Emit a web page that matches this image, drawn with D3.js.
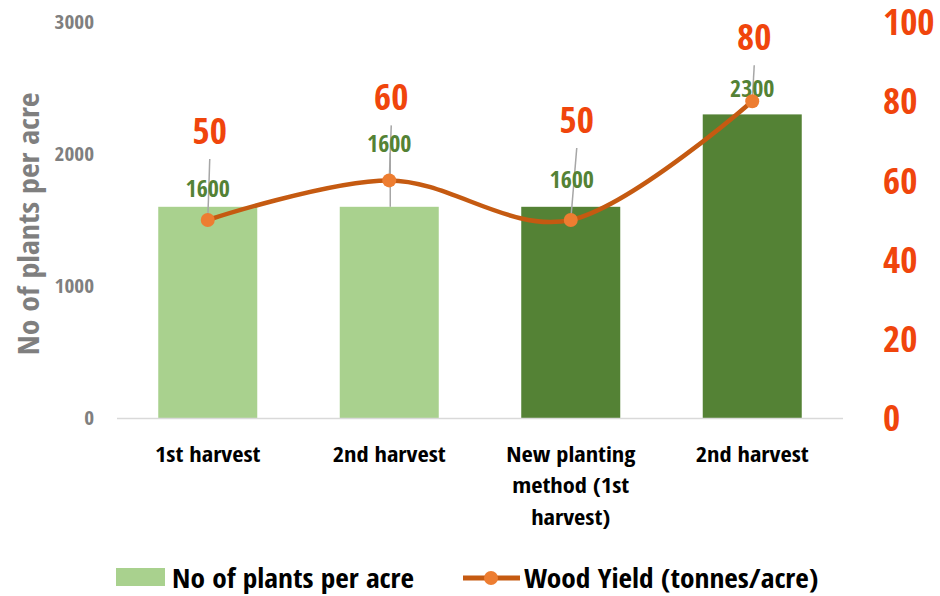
<!DOCTYPE html>
<html><head><meta charset="utf-8">
<script src="https://cdn.jsdelivr.net/npm/d3@7"></script>
<style>
html,body{margin:0;padding:0;background:#fff;}
svg text{font-family:"Open Sans Condensed","Liberation Sans Narrow","DejaVu Sans Condensed","Open Sans",sans-serif;font-weight:700;font-stretch:75%;}
</style>
</head><body>
<svg id="chart" width="940" height="596"></svg>
<script>
// ---- data ----
const categories = ["1st harvest", "2nd harvest", "New planting method (1st harvest)", "2nd harvest"];
const categoryLines = [["1st harvest"], ["2nd harvest"], ["New planting", "method (1st", "harvest)"], ["2nd harvest"]];
const plantsPerAcre = [1600, 1600, 1600, 2300];
const woodYield = [50, 60, 50, 80];
const barIsNewMethod = [false, false, true, true];
const leftTicks = [0, 1000, 2000, 3000];
const rightTicks = [0, 20, 40, 60, 80, 100];
const seriesNames = ["No of plants per acre", "Wood Yield (tonnes/acre)"];

// label placement (manually dragged labels in the original)
const yieldLabelOffset = [[2, -90], [2, -84], [6, -101], [2, -65]];
const barLabelOffset = [[0, -19], [0, -64], [1, -28], [0, -27]];

(function () {
const svg = d3.select("#chart");
const pL = 117, pR = 843, pT = 22, pB = 418;

const x = d3.scaleBand().domain(d3.range(categories.length)).range([pL, pR])
  .paddingInner(0.4545).paddingOuter(0.2273);
const yL = d3.scaleLinear().domain([0, 3000]).range([pB, pT]);
const yR = d3.scaleLinear().domain([0, 100]).range([pB, pT]);

const cLight = "#A9D18E", cDark = "#548235", cLine = "#C55A11", cMark = "#ED7D31";
const cRed = "#F0450C", cGray = "#7F7F7F", cLeader = "#A6A6A6";

// text placed at (tx,ty) and widened horizontally by sx
function wtext(parent, tx, ty, sx, rot) {
  return parent.append("text")
    .attr("transform", `translate(${tx},${ty})${rot ? ` rotate(${rot})` : ""} scale(${sx},1)`);
}

// bars
svg.append("g").selectAll("rect").data(plantsPerAcre).join("rect")
  .attr("x", (d, i) => x(i)).attr("width", x.bandwidth())
  .attr("y", d => yL(d)).attr("height", d => yL(0) - yL(d))
  .attr("fill", (d, i) => barIsNewMethod[i] ? cDark : cLight);

// baseline axis
svg.append("line").attr("x1", pL).attr("x2", pR).attr("y1", pB + 0.5).attr("y2", pB + 0.5)
  .attr("stroke", "#D9D9D9").attr("stroke-width", 1.5);

// left axis
const gL = svg.append("g").attr("transform", `translate(${pL},0)`)
  .call(d3.axisLeft(yL).tickValues(leftTicks).tickSize(0).tickPadding(23).tickFormat(d3.format("d")));
gL.select(".domain").remove();
gL.selectAll("text").attr("fill", cGray).style("font-size", "19px")
  .attr("x", 0).attr("transform", "translate(-23,0) scale(1.12,1)");

// right axis
const gR = svg.append("g").attr("transform", `translate(${pR},0)`)
  .call(d3.axisRight(yR).tickValues(rightTicks).tickSize(0).tickPadding(40));
gR.select(".domain").remove();
gR.selectAll("text").attr("fill", cRed).style("font-size", "35px").attr("dy", "0.36em")
  .attr("x", 0).attr("transform", "translate(40,0) scale(1.06,1)");

// left axis title
wtext(svg, 28, (pT + pB) / 2 + 4, 1.1, -90)
  .attr("text-anchor", "middle").attr("dominant-baseline", "central")
  .attr("fill", cGray).style("font-size", "29px").text("No of plants per acre");

// category labels
const gx = svg.append("g");
categoryLines.forEach((lines, i) => {
  const t = wtext(gx, x(i) + x.bandwidth() / 2, 0, 1.11)
    .attr("text-anchor", "middle").attr("fill", "#000").style("font-size", "22px");
  lines.forEach((ln, k) => {
    t.append("tspan").attr("x", 0).attr("y", 462 + k * 31.5).text(ln);
  });
});

const cx = i => x(i) + x.bandwidth() / 2;
const line = d3.line().x((d, i) => cx(i)).y(d => yR(d)).curve(d3.curveCardinal.tension(0));

// leaders for bar labels (long ones)
plantsPerAcre.forEach((v, i) => {
  const [dx, dy] = barLabelOffset[i];
  if (dy < -40) {
    svg.append("line").attr("x1", cx(i) + dx + 1).attr("x2", cx(i) + 1)
      .attr("y1", yL(v) + dy + 10).attr("y2", yL(v))
      .attr("stroke", cLeader).attr("stroke-width", 1.5);
  }
});
// leaders for yield labels
woodYield.forEach((v, i) => {
  const [dx, dy] = yieldLabelOffset[i];
  svg.append("line").attr("x1", cx(i) + dx).attr("x2", cx(i))
    .attr("y1", yR(v) + dy + 29).attr("y2", yR(v))
    .attr("stroke", cLeader).attr("stroke-width", 1.5);
});

// bar labels
svg.append("g").selectAll("text").data(plantsPerAcre).join("text")
  .attr("x", (d, i) => cx(i) + barLabelOffset[i][0])
  .attr("y", (d, i) => yL(d) + barLabelOffset[i][1])
  .attr("text-anchor", "middle").attr("dominant-baseline", "central")
  .attr("fill", cDark).style("font-size", "24px").text(d => d);

svg.append("path").datum(woodYield).attr("d", line)
  .attr("fill", "none").attr("stroke", cLine).attr("stroke-width", 4.5).attr("stroke-linecap", "round");
svg.append("g").selectAll("circle").data(woodYield).join("circle")
  .attr("cx", (d, i) => cx(i)).attr("cy", d => yR(d)).attr("r", 7).attr("fill", cMark);

// yield labels
const gy = svg.append("g");
woodYield.forEach((v, i) => {
  wtext(gy, cx(i) + yieldLabelOffset[i][0], yR(v) + yieldLabelOffset[i][1], 1.06)
    .attr("text-anchor", "middle").attr("dominant-baseline", "central")
    .attr("fill", cRed).style("font-size", "35px").text(v);
});

// legend
const lg = svg.append("g");
lg.append("rect").attr("x", 116).attr("y", 568).attr("width", 49).attr("height", 18).attr("fill", cLight);
wtext(lg, 172, 578, 1.13).attr("dominant-baseline", "central")
  .attr("fill", "#000").style("font-size", "26px").text(seriesNames[0]);
lg.append("line").attr("x1", 463).attr("x2", 520).attr("y1", 578).attr("y2", 578)
  .attr("stroke", cLine).attr("stroke-width", 5);
lg.append("circle").attr("cx", 491).attr("cy", 578).attr("r", 7).attr("fill", cMark);
wtext(lg, 524, 578, 1.13).attr("dominant-baseline", "central")
  .attr("fill", "#000").style("font-size", "26px").text(seriesNames[1]);
})();
</script>
</body></html>
